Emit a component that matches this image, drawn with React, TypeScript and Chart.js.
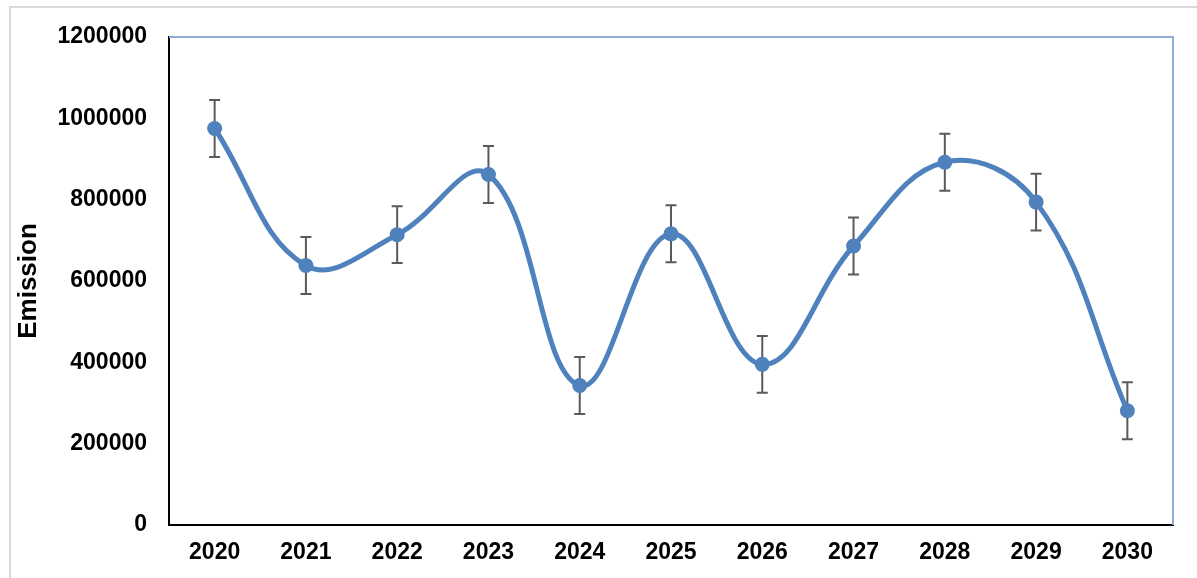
import React, { useEffect, useRef } from "react";
import { Chart, registerables } from "chart.js";

Chart.register(...registerables);

// Years along the horizontal axis
const years = ["2020", "2021", "2022", "2023", "2024", "2025", "2026", "2027", "2028", "2029", "2030"];
// Yearly emission values
const emission = [975000, 638000, 714000, 862000, 343000, 716000, 395000, 686000, 892000, 794000, 281000];
// Symmetric error (+/-) for each year
const emissionError = [70000, 70000, 70000, 70000, 70000, 70000, 70000, 70000, 70000, 70000, 70000];
// Value axis ticks
const yTicks = [0, 200000, 400000, 600000, 800000, 1000000, 1200000];
const yTickLabels = ["0", "200000", "400000", "600000", "800000", "1000000", "1200000"];

const FONT = "'Liberation Sans', Arial, sans-serif";
const W = 1197;
const H = 578;

// Draws vertical error bars with caps beneath the line and markers
const errorBars = {
  id: "errorBars",
  beforeDatasetsDraw(chart: any) {
    const { ctx, scales } = chart;
    const xs = scales.x;
    const ys = scales.y;
    ctx.save();
    ctx.strokeStyle = "#5a5a5a";
    ctx.lineWidth = 2;
    const cap = 5.5;
    emission.forEach((v, i) => {
      const x = xs.getPixelForValue(i);
      const yt = ys.getPixelForValue(v + emissionError[i]);
      const yb = ys.getPixelForValue(v - emissionError[i]);
      ctx.beginPath();
      ctx.moveTo(x, yt);
      ctx.lineTo(x, yb);
      ctx.moveTo(x - cap, yt);
      ctx.lineTo(x + cap, yt);
      ctx.moveTo(x - cap, yb);
      ctx.lineTo(x + cap, yb);
      ctx.stroke();
    });
    ctx.restore();
  },
};

// Outer frame of the chart and the light top/right edges of the plot area
const frames = {
  id: "frames",
  beforeDraw(chart: any) {
    const { ctx } = chart;
    ctx.save();
    ctx.fillStyle = "#ffffff";
    ctx.fillRect(0, 0, W, H);
    ctx.strokeStyle = "#d9d9d9";
    ctx.lineWidth = 2;
    ctx.beginPath();
    ctx.moveTo(10, H);
    ctx.lineTo(10, 7);
    ctx.lineTo(W, 7);
    ctx.stroke();
    ctx.restore();
  },
  afterDraw(chart: any) {
    const { ctx, chartArea } = chart;
    ctx.save();
    ctx.strokeStyle = "#8eacd6";
    ctx.lineWidth = 2;
    ctx.beginPath();
    ctx.moveTo(chartArea.left, chartArea.top);
    ctx.lineTo(chartArea.right, chartArea.top);
    ctx.lineTo(chartArea.right, chartArea.bottom);
    ctx.stroke();
    ctx.restore();
  },
};

export default function App() {
  const ref = useRef<HTMLCanvasElement | null>(null);

  useEffect(() => {
    if (!ref.current) return;
    const chart = new Chart(ref.current, {
      type: "line",
      data: {
        labels: years,
        datasets: [
          {
            data: emission,
            borderColor: "#4f81bd",
            backgroundColor: "#4f81bd",
            borderWidth: 5,
            pointRadius: 7.5,
            pointHoverRadius: 7.5,
            pointBorderWidth: 0,
            pointBackgroundColor: "#4f81bd",
            tension: 0.4,
            fill: false,
          },
        ],
      },
      options: {
        responsive: false,
        animation: false,
        devicePixelRatio: 1,
        layout: { padding: { top: 37, right: 24, left: 0, bottom: 0 } },
        plugins: {
          legend: { display: false },
          tooltip: { enabled: false },
        },
        scales: {
          x: {
            type: "category",
            offset: true,
            grid: { display: false, drawTicks: false },
            border: { display: true, color: "#000000", width: 2 },
            ticks: {
              color: "#000000",
              padding: 14,
              font: { family: FONT, size: 23, weight: "bold" },
              maxRotation: 0,
            },
            afterFit(scale: any) {
              scale.height = H - 525;
            },
          },
          y: {
            min: 0,
            max: 1200000,
            afterBuildTicks(scale: any) {
              scale.ticks = yTicks.map((v) => ({ value: v }));
            },
            grid: { display: false, drawTicks: false },
            border: { display: true, color: "#000000", width: 2 },
            ticks: {
              color: "#000000",
              padding: 22,
              font: { family: FONT, size: 23, weight: "bold" },
              callback: (v: any) => {
                const i = yTicks.indexOf(Number(v));
                return i >= 0 ? yTickLabels[i] : "";
              },
            },
            title: {
              display: true,
              text: "Emission",
              color: "#000000",
              font: { family: FONT, size: 26, weight: "bold" },
              padding: { top: 13, bottom: 0 },
            },
            afterFit(scale: any) {
              scale.width = 169;
            },
          },
        },
      },
      plugins: [errorBars, frames],
    });
    return () => chart.destroy();
  }, []);

  return (
    <div style={{ position: "absolute", left: 0, top: 0, width: W, height: H, background: "#fff" }}>
      <canvas ref={ref} width={W} height={H} style={{ display: "block", width: W, height: H }} />
    </div>
  );
}
